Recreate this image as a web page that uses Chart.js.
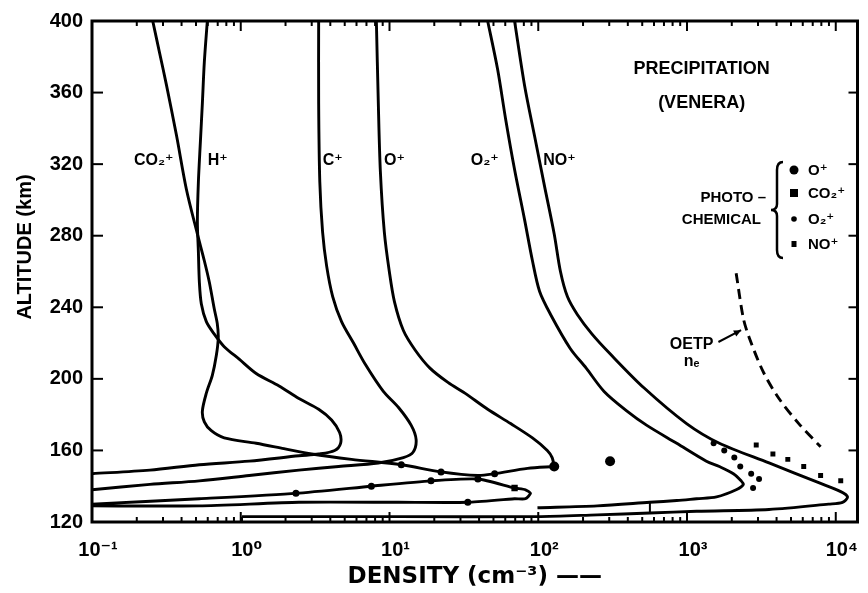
<!DOCTYPE html>
<html>
<head>
<meta charset="utf-8">
<title>Precipitation (Venera) ion densities</title>
<script src="https://cdn.jsdelivr.net/npm/chart.js@4.4.1/dist/chart.umd.min.js"></script>
<style>
  html, body { margin: 0; padding: 0; background: #fff; overflow: hidden; }
  canvas { display: block; }
</style>
</head>
<body>
<canvas id="myChart" width="868" height="593"></canvas>
<script>
// axes
const altTicks = [120, 160, 200, 240, 280, 320, 360, 400];
const densityTicks = [0.1, 1, 10, 100, 1000, 10000];
const densityTickLabels = ['10⁻¹', '10⁰', '10¹', '10²', '10³', '10⁴'];

// ion names (curve labels, photochemical legend)
const ionNames = ['CO₂⁺', 'H⁺', 'C⁺', 'O⁺', 'O₂⁺', 'NO⁺'];
const photoNames = ['O⁺', 'CO₂⁺', 'O₂⁺', 'NO⁺'];

// model profiles: density (cm-3) and altitude (km)
const co2Density = [0.256, 0.285, 0.317, 0.370, 0.431, 0.511, 0.569, 0.615, 0.664, 0.695, 0.706, 0.685, 0.644, 0.587, 0.552, 0.569, 0.634, 0.774, 1.27, 1.95, 3.00, 5.55, 12.0, 22.2, 39.3, 50.9, 84.7, 128];
const co2Alt = [400, 382, 364, 336, 306, 281, 266, 254, 239, 231, 223, 213, 202, 192, 182, 176, 171, 167, 164, 161, 158, 155, 152, 148, 146, 147, 150, 151];

const hDensity = [0.596, 0.569, 0.552, 0.535, 0.519, 0.511, 0.519, 0.527, 0.543, 0.587, 0.664, 0.774, 0.976, 1.27, 1.81, 2.46, 3.34, 4.08, 4.62, 4.69, 4.28, 3.34, 2.46, 1.14, 0.527, 0.245, 0.1];
const hAlt = [400, 377, 354, 332, 310, 288, 271, 254, 242, 232, 225, 218, 211, 203, 196, 189, 183, 177, 170, 164, 160, 158, 157, 154, 152, 149, 147];

const cDensity = [3.34, 3.34, 3.40, 3.55, 3.78, 4.15, 4.76, 5.73, 6.89, 9.09, 11.5, 14.0, 15.1, 14.4, 12.4, 8.41, 4.55, 2.46, 1.14, 0.527, 0.245, 0.1];
const cAlt = [400, 354, 310, 282, 263, 246, 232, 220, 208, 193, 184, 174, 166, 159, 156, 153, 151, 149, 146, 143, 141, 138];

const oDensity = [8.16, 8.41, 8.68, 9.23, 9.97, 10.8, 12.4, 14.9, 18.7, 24.7, 32.1, 45.7, 65.2, 91.4, 115, 124, 128];
const oAlt = [400, 354, 316, 282, 260, 243, 227, 216, 206, 198, 192, 183, 175, 167, 160, 156, 151];

const o2Density = [45.7, 53.3, 60.4, 69.3, 80.9, 91.4, 102, 121, 164, 210, 277, 395, 537, 853, 1350, 1650, 2050, 2310, 2390, 2140, 1580, 1160, 853, 563, 249, 98.8];
const o2Alt = [400, 373, 345, 317, 289, 266, 249, 236, 217, 206, 193, 182, 174, 164, 154, 151, 147, 143, 141, 138, 134, 133, 132, 131, 129, 128];

const noDensity = [69.3, 80.9, 94.3, 110, 128, 141, 157, 183, 230, 304, 513, 993, 1650, 3560, 7680, 10800, 12000, 11100, 8950, 3560, 1160, 563, 249, 98.8, 11.5, 1.02];
const noAlt = [400, 364, 336, 308, 281, 260, 246, 236, 225, 214, 195, 175, 164, 153, 142, 137, 134, 131, 130, 127, 126, 125, 124, 123, 123, 123];

// low-altitude loop and the short connectors
const loopDensity = [0.1, 0.527, 2.35, 7.55, 19.0, 39.3, 69.3, 82.1, 88.7, 82.1, 69.3, 33.6, 11.5, 2.46, 0.527, 0.1];
const loopAlt = [130, 133, 136, 140, 143, 144, 139, 138, 136, 133, 133, 131, 131, 131, 129, 129];
const tieDensity = [563, 563];
const tieAlt = [131, 125];
const footDensity = [1.02, 1.02];
const footAlt = [123, 120.5];

// OETP electron density (dashed)
const neDensity = [2140, 2390, 2620, 3250, 4150, 5640, 7910];
const neAlt = [259, 234, 223, 204, 189, 175, 162];

// points on the model curves
const curveDotDensity = [2.35, 7.55, 12.0, 19.0, 22.2, 39.3, 50.9, 33.6];
const curveDotAlt = [136, 140, 152, 143, 148, 144, 147, 131];

// photochemical values
const photoODensity = [304, 128];
const photoOAlt = [154, 151];
const photoCO2Density = [69.3];
const photoCO2Alt = [139];
const photoO2Density = [1510, 1780, 2080, 2280, 2700, 3050, 2780];
const photoO2Alt = [164, 160, 156, 151, 147, 144, 139];
const photoNODensity = [2920, 3780, 4760, 6090, 7910, 10800];
const photoNOAlt = [163, 158, 155, 151, 146, 143];

const pts = (xs, ys) => xs.map((v, i) => ({ x: v, y: ys[i] }));

const curve = (xs, ys, extra) => Object.assign({
    data: pts(xs, ys),
    showLine: true,
    borderColor: '#000',
    borderWidth: 2.9,
    pointRadius: 0,
    tension: 0.3
}, extra);

const marks = (xs, ys, style, r) => ({
    data: pts(xs, ys),
    showLine: false,
    pointStyle: style,
    pointRadius: r,
    backgroundColor: '#000',
    borderColor: '#000',
    borderWidth: 0
});

const tickFont = { family: '"Liberation Sans", "DejaVu Sans", sans-serif', weight: 'bold', size: 20 };

const annotate = {
    id: 'annotate',
    afterDraw(chart) {
        const { ctx, chartArea: a, scales } = chart;
        const sx = scales.x, sy = scales.y;
        const at = (d, h) => [sx.getPixelForValue(d), sy.getPixelForValue(h)];
        const line = (x0, y0, x1, y1) => { ctx.beginPath(); ctx.moveTo(x0, y0); ctx.lineTo(x1, y1); ctx.stroke(); };
        const text = (s, px, py, size, align) => {
            ctx.font = 'bold ' + size + 'px "Liberation Sans", "DejaVu Sans", sans-serif';
            ctx.textAlign = align || 'center';
            ctx.textBaseline = 'middle';
            ctx.fillText(s, px, py);
        };

        ctx.save();
        ctx.strokeStyle = '#000';
        ctx.fillStyle = '#000';

        // frame with inward ticks
        ctx.lineWidth = 3;
        ctx.strokeRect(a.left, a.top, a.right - a.left, a.bottom - a.top);
        ctx.lineWidth = 2;
        altTicks.slice(1, -1).forEach(v => {
            const py = sy.getPixelForValue(v);
            line(a.left, py, a.left + 11, py);
            line(a.right, py, a.right - 9, py);
        });
        for (let d = -1; d <= 4; d++) {
            for (let k = 1; k <= 9; k++) {
                const v = k * Math.pow(10, d);
                if (v <= sx.min * 1.001 || v >= sx.max) continue;
                const px = sx.getPixelForValue(v);
                const len = k === 1 ? 10 : 5;
                line(px, a.bottom, px, a.bottom - len);
                line(px, a.top, px, a.top + len);
            }
        }

        // y axis title
        ctx.save();
        ctx.translate(25, 247);
        ctx.rotate(-Math.PI / 2);
        text('ALTITUDE (km)', 0, 0, 20);
        ctx.restore();

        // curve names
        [0.26, 0.70, 4.15, 10.8, 43.7, 139].forEach((d, i) => {
            const p = at(d, 322);
            text(ionNames[i], p[0], p[1], 16);
        });

        let p = at(1254, 373);
        text('PRECIPITATION', p[0], p[1], 18);
        p = at(1254, 354);
        text('(VENERA)', p[0], p[1], 18);

        // photochemical legend
        text('PHOTO –', 766, 198, 15, 'right');
        text('CHEMICAL', 761, 220, 15, 'right');
        ctx.lineWidth = 2.5;
        const bx = 777, b0 = 162, b1 = 258, bm = (b0 + b1) / 2;
        ctx.beginPath();
        ctx.moveTo(bx + 6, b0);
        ctx.quadraticCurveTo(bx, b0, bx, b0 + 8);
        ctx.lineTo(bx, bm - 6);
        ctx.quadraticCurveTo(bx, bm, bx - 6, bm);
        ctx.quadraticCurveTo(bx, bm, bx, bm + 6);
        ctx.lineTo(bx, b1 - 8);
        ctx.quadraticCurveTo(bx, b1, bx + 6, b1);
        ctx.stroke();
        const lx = 794, rows = [170, 193, 219, 244];
        ctx.beginPath(); ctx.arc(lx, rows[0], 4.5, 0, 2 * Math.PI); ctx.fill();
        ctx.fillRect(lx - 4, rows[1] - 4, 8, 8);
        ctx.beginPath(); ctx.arc(lx, rows[2], 2.8, 0, 2 * Math.PI); ctx.fill();
        ctx.fillRect(lx - 2.5, rows[3] - 3, 5, 6);
        photoNames.forEach((s, i) => text(s, 808, rows[i] + 1, 15, 'left'));

        // OETP label and arrow
        p = at(1073, 219.4);
        text('OETP', p[0], p[1], 16);
        p = at(1073, 209.4);
        text('nₑ', p[0], p[1], 16);
        const t0 = at(1626, 220.6), t1 = at(2310, 227.2);
        ctx.lineWidth = 2;
        line(t0[0], t0[1], t1[0], t1[1]);
        const ang = Math.atan2(t1[1] - t0[1], t1[0] - t0[0]);
        ctx.beginPath();
        ctx.moveTo(t1[0], t1[1]);
        ctx.lineTo(t1[0] - 8 * Math.cos(ang - 0.45), t1[1] - 8 * Math.sin(ang - 0.45));
        ctx.lineTo(t1[0] - 8 * Math.cos(ang + 0.45), t1[1] - 8 * Math.sin(ang + 0.45));
        ctx.closePath();
        ctx.fill();

        ctx.restore();
    }
};

new Chart(document.getElementById('myChart'), {
    type: 'scatter',
    data: {
        datasets: [
            curve(co2Density, co2Alt),
            curve(hDensity, hAlt),
            curve(cDensity, cAlt),
            curve(oDensity, oAlt),
            curve(o2Density, o2Alt),
            curve(noDensity, noAlt),
            curve(loopDensity, loopAlt, { tension: 0.2 }),
            curve(tieDensity, tieAlt, { tension: 0, borderWidth: 2 }),
            curve(footDensity, footAlt, { tension: 0, borderWidth: 2 }),
            curve(neDensity, neAlt, { borderDash: [10, 6] }),
            marks(curveDotDensity, curveDotAlt, 'circle', 3.5),
            marks(photoODensity, photoOAlt, 'circle', 5),
            marks(photoCO2Density, photoCO2Alt, 'rect', 4.5),
            marks(photoO2Density, photoO2Alt, 'circle', 3),
            marks(photoNODensity, photoNOAlt, 'rect', 3.5)
        ]
    },
    options: {
        responsive: false,
        animation: false,
        devicePixelRatio: 1,
        layout: { padding: { top: 18, right: 6, left: 0, bottom: 0 } },
        plugins: {
            legend: { display: false },
            tooltip: { enabled: false }
        },
        scales: {
            x: {
                type: 'logarithmic',
                position: 'bottom',
                min: 0.1,
                max: 14000,
                afterBuildTicks: s => { s.ticks = densityTicks.map(v => ({ value: v })); },
                afterFit: s => { s.height = 71; },
                grid: { display: false, drawTicks: false },
                border: { display: false },
                ticks: {
                    autoSkip: false,
                    maxRotation: 0,
                    padding: 16,
                    labelOffset: 6,
                    color: '#000',
                    font: tickFont,
                    callback: v => {
                        const i = densityTicks.indexOf(v);
                        return i >= 0 ? densityTickLabels[i] : '';
                    }
                },
                title: {
                    display: true,
                    text: 'DENSITY (cm⁻³) ——',
                    color: '#000',
                    font: { family: '"DejaVu Sans", sans-serif', weight: 'bold', size: 23 },
                    padding: { top: 0, bottom: 2 }
                }
            },
            y: {
                type: 'linear',
                min: 120,
                max: 400,
                afterBuildTicks: s => { s.ticks = altTicks.map(v => ({ value: v })); },
                afterFit: s => { s.width = 92; },
                grid: { display: false, drawTicks: false },
                border: { display: false },
                ticks: {
                    padding: 9,
                    color: '#000',
                    font: tickFont,
                    callback: v => String(v)
                }
            }
        }
    },
    plugins: [annotate]
});
</script>
</body>
</html>
